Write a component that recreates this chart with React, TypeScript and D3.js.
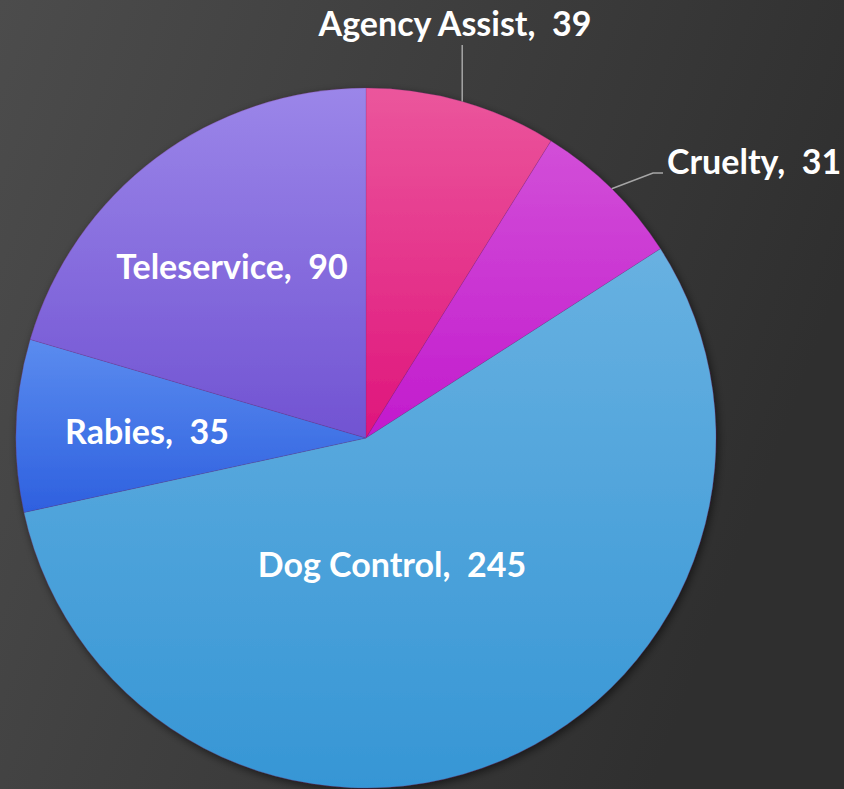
import React from "react";
import * as d3 from "d3";

const categories = ["Agency Assist", "Cruelty", "Dog Control", "Rabies", "Teleservice"];
const values = [39, 31, 245, 35, 90];
const topColors = ["#eb569c", "#d24fd8", "#68b1e1", "#5b8cef", "#9b86e9"];
const bottomColors = ["#df157c", "#c21acd", "#3696d5", "#2e60df", "#7153d2"];

const W = 844;
const H = 789;
const cx = 366;
const cy = 438;
const R = 350;

export default function App() {
  const data = categories.map((c, i) => ({ name: c, value: values[i], i }));
  const pie = d3.pie<any>().value((d) => d.value).sort(null).startAngle(0).endAngle(2 * Math.PI);
  const arcs = pie(data);
  const arc = d3.arc<any>().innerRadius(0).outerRadius(R);
  const font = "Lato, 'Open Sans', sans-serif";

  const labelPos: Record<string, { x: number; y: number; anchor: string }> = {
    "Agency Assist": { x: 455, y: 36, anchor: "middle" },
    Cruelty: { x: 667, y: 174, anchor: "start" },
    "Dog Control": { x: 392, y: 577, anchor: "middle" },
    Rabies: { x: 147, y: 444, anchor: "middle" },
    Teleservice: { x: 232, y: 279, anchor: "middle" },
  };

  const pt = (a: number, r: number) => [cx + r * Math.sin(a), cy - r * Math.cos(a)];
  const aa = arcs[0];
  const aaMid = (aa.startAngle + aa.endAngle) / 2;
  const aaP = pt(aaMid, R);
  const cr = arcs[1];
  const crMid = (cr.startAngle + cr.endAngle) / 2;
  const crP = pt(crMid, R);

  return (
    <svg width={W} height={H} style={{ position: "fixed", left: 0, top: 0 }}>
      <defs>
        <linearGradient id="bg" x1="0" y1="0" x2="1" y2="0.35">
          <stop offset="0" stopColor="#4c4c4c" />
          <stop offset="1" stopColor="#2f2f2f" />
        </linearGradient>
        {arcs.map((a, i) => (
          <linearGradient key={i} id={`g${i}`} x1="0" y1="0" x2="0" y2="1">
            <stop offset="0" stopColor={topColors[i]} />
            <stop offset="1" stopColor={bottomColors[i]} />
          </linearGradient>
        ))}
        <filter id="shadow" x="-10%" y="-10%" width="120%" height="120%">
          <feDropShadow dx="2" dy="3" stdDeviation="4" floodColor="#000" floodOpacity="0.55" />
        </filter>
      </defs>
      <rect x={0} y={0} width={W} height={H} fill="url(#bg)" />
      <g transform={`translate(${cx},${cy})`} filter="url(#shadow)">
        {arcs.map((a, i) => (
          <path key={i} d={arc(a) as string} fill={`url(#g${i})`} stroke="rgba(120,40,120,0.35)" strokeWidth={0.6} />
        ))}
      </g>
      <polyline
        points={`${aaP[0]},${aaP[1]} ${aaP[0]},45`}
        fill="none"
        stroke="#a6a6a6"
        strokeWidth={1.5}
      />
      <polyline
        points={`${crP[0]},${crP[1]} 653,173 663,173`}
        fill="none"
        stroke="#a6a6a6"
        strokeWidth={1.5}
      />
      {arcs.map((a, i) => {
        const p = labelPos[a.data.name];
        return (
          <text
            key={i}
            x={p.x}
            y={p.y}
            textAnchor={p.anchor as any}
            fill="#ffffff"
            fontFamily={font}
            fontWeight={700}
            fontSize={34}
            style={{ whiteSpace: "pre" }}
          >
            {`${a.data.name},  ${a.data.value}`}
          </text>
        );
      })}
    </svg>
  );
}
